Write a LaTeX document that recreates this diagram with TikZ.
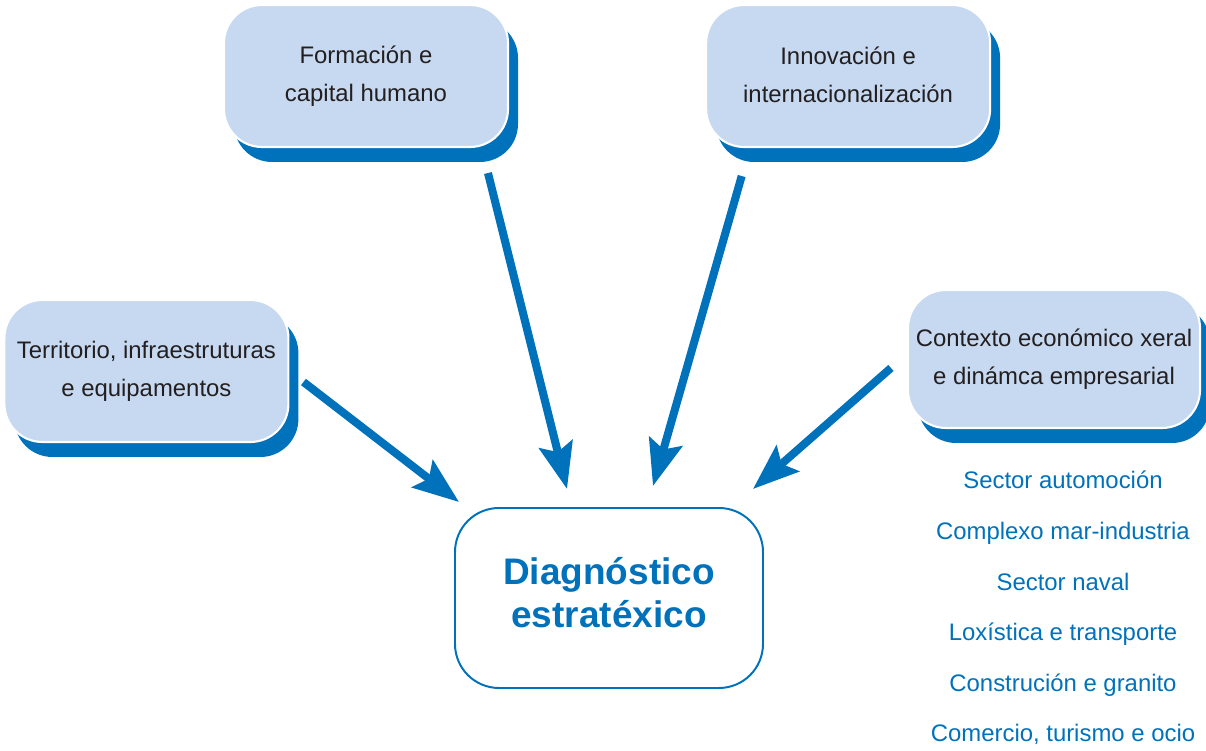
\documentclass[tikz,border=0pt]{standalone}
\usepackage{fontspec}
\setmainfont{Liberation Sans}
\usetikzlibrary{positioning, shadows, arrows.meta}

\definecolor{deepblue}{RGB}{0,114,188}
\definecolor{paleblue}{RGB}{198,217,240}
\definecolor{inkgray}{RGB}{35,31,32}

\tikzset{
  topic/.style={rectangle, rounded corners=0.95cm, fill=paleblue, draw=white,
    line width=1.5pt, minimum width=7.1cm, minimum height=3.55cm, align=center,
    text=inkgray, font=\fontsize{17}{27}\selectfont,
    general shadow={fill=deepblue, shadow xshift=0.25cm, shadow yshift=-0.375cm}},
  core/.style={rectangle, rounded corners=1.1cm, draw=deepblue, fill=white,
    line width=1.4pt, minimum width=7.7cm, minimum height=4.5cm, align=center,
    text=deepblue, font=\bfseries\fontsize{26.3}{30.6}\selectfont},
  flow/.style={draw=deepblue, line width=5.7pt,
    -{Stealth[length=1.15cm, width=0.85cm, inset=0.2cm]}},
  sector/.style={text=deepblue, anchor=base, font=\fontsize{17}{20}\selectfont}
}

\begin{document}
\begin{tikzpicture}
\useasboundingbox (0,0) rectangle (30.15,18.775);

\node[topic] (form) at (9.15,16.875) {Formación e\\capital humano};
\node[topic, right=4.9cm of form] (innov) {Innovación e\\internacionalización\\[-0.9cm]};
\node[topic] (terr) at (3.66,9.5) {Territorio, infraestruturas\\e equipamentos};
\node[topic, minimum width=7.3cm, minimum height=3.45cm] (cont) at (26.35,9.8)
  {Contexto económico xeral\\e dinámca empresarial};

\node[core] (diag) at (15.225,3.825) {Diagnóstico\\estratéxico\\[-0.78cm]};

% sectors under the context box
\foreach \txt [count=\i] in {Sector automoción, Complexo mar-industria,
    Sector naval, Loxística e transporte, Construción e granito,
    {Comercio, turismo e ocio}}
  \node[sector] (sec\i) at (26.575,{6.55-1.265*(\i-1)}) {\txt};

% arrow ends
\coordinate (terrout) at ([shift={(0.35,-0.275)}]terr.east);
\coordinate (formout) at ([shift={(3.05,-0.625)}]form.south);
\coordinate (innovout) at ([shift={(-2.66,-0.7)}]innov.south);
\coordinate (contout) at ([shift={(-0.4,-0.225)}]cont.west);
\coordinate (terrin) at ([shift={(0.125,0.125)}]diag.north west);
\coordinate (formin) at ([shift={(-1.05,0.45)}]diag.north);
\coordinate (innovin) at ([shift={(1.1,0.525)}]diag.north);
\coordinate (contin) at ([shift={(-0.275,0.45)}]diag.north east);

\draw[flow] (terrout) -- (terrin);
\draw[flow] (formout) -- (formin);
\draw[flow] (innovout) -- (innovin);
\draw[flow] (contout) -- (contin);
\end{tikzpicture}
\end{document}
